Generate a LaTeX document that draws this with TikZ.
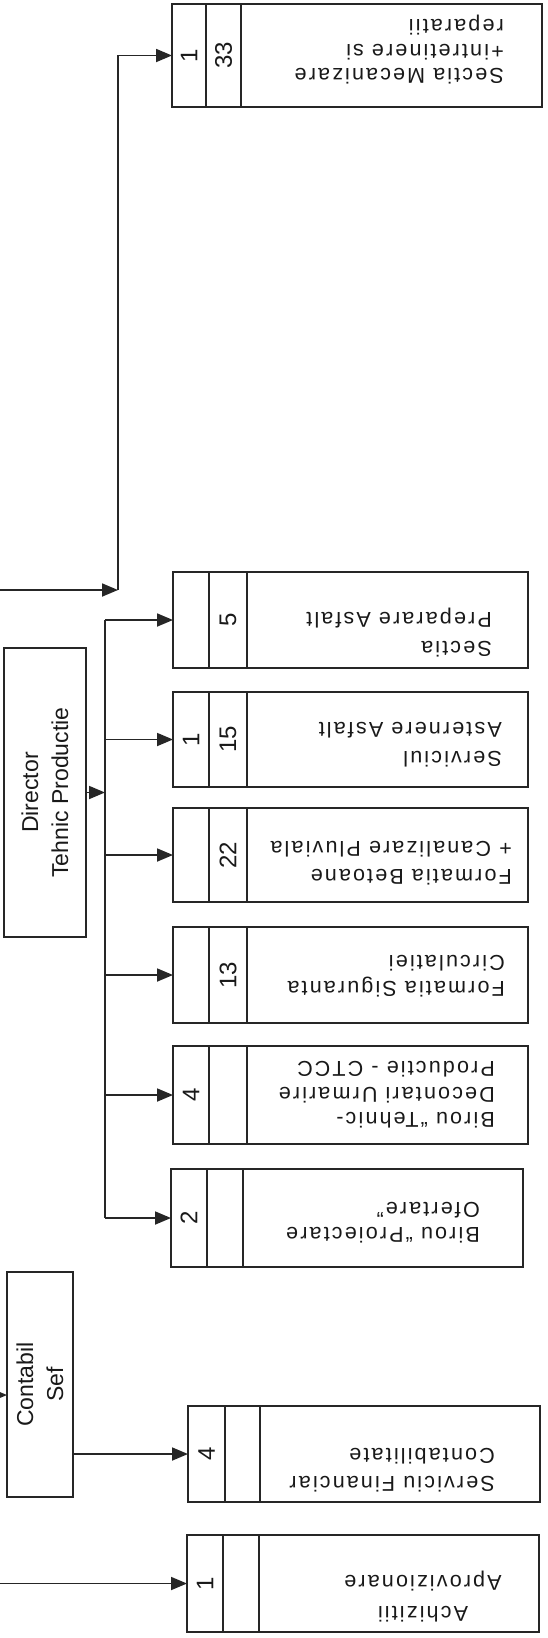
\documentclass[tikz,border=0pt]{standalone}
\usepackage{fontspec}
\setmainfont{Liberation Sans}
\newfontfamily\lblfont[LetterSpace=10]{Liberation Sans}
\usetikzlibrary{arrows.meta}
\newcommand\orgbox[9]{%
  \node[cellbox, minimum width={#4-#2}, minimum height={#5-#3}] (#1) at ({(#2+#4)/2},{(#3+#5)/2}) {};
  \draw[ln] (#6,#3) -- (#6,#5) (#7,#3) -- (#7,#5);
  \node[num] (#1-a) at ({(#2+#6)/2},{(#3+#5)/2}) {#8};
  \node[num] (#1-b) at ({(#6+#7)/2},{(#3+#5)/2}) {#9};
}
\newcommand\lblsize[1]{\lblfont\fontsize{21.5}{#1}\selectfont}
\begin{document}
\begin{tikzpicture}[x=1pt,y=-1pt,
  ln/.style={line width=1.8pt, draw=black!85},
  cellbox/.style={ln, rectangle, inner sep=0pt, outer sep=0pt},
  arr/.style={ln, -{Triangle[length=16pt,width=13pt]}},
  num/.style={font=\fontsize{24}{28}\selectfont, rotate=90, inner sep=0pt, text=black!90},
  lbl/.style={rotate=180, align=left, inner sep=0pt, text=black!90},
  head/.style={font=\fontsize{23}{30}\selectfont, rotate=90, align=center, inner sep=0pt, text=black!90}
]
\fill[white] (0,0) rectangle (547,1638);
\useasboundingbox (0,0) rectangle (547,1638);

% sub-boxes
\orgbox{mec}{172}{4}{542}{107}{206}{241}{1}{33}
\orgbox{prep}{173}{572}{528}{668}{209}{247}{}{5}
\orgbox{serv}{173}{692}{528}{787}{209}{247}{1}{15}
\orgbox{beton}{173}{808}{528}{902}{209}{247}{}{22}
\orgbox{sigur}{173}{927}{528}{1023}{209}{247}{}{13}
\orgbox{tehn}{173}{1046}{528}{1144}{209}{247}{4}{}
\orgbox{proi}{171}{1169}{523}{1267}{207}{243}{2}{}
\orgbox{fin}{188}{1406}{540}{1502}{225}{260}{4}{}
\orgbox{achiz}{187}{1535}{539}{1632}{223}{259}{1}{}

% labels (upside down)
\node[lbl, anchor=west, font=\lblsize{24.5}] (mec-t) at (504,50) {Sectia Mecanizare\\+intretinere si\\reparatii};
\node[lbl, anchor=west, font=\lblsize{29}] (prep-t) at (492,633) {Sectia\\Preparare Asfalt};
\node[lbl, anchor=west, font=\lblsize{29}] (serv-t) at (502,745) {Serviciul\\Asternere Asfalt};
\node[lbl, anchor=west, font=\lblsize{28}] (beton-t) at (512,863) {Formatia Betoane\\+ Canalizare Pluviala};
\node[lbl, anchor=west, font=\lblsize{26}] (sigur-t) at (505,976) {Formatia Siguranta\\Circulatiei};
\node[lbl, anchor=west, font=\lblsize{25.5}] (tehn-t) at (495,1095) {Birou “Tehnic-\\Decontari Urmarire\\Productie - CTCC};
\node[lbl, anchor=west, font=\lblsize{25}] (proi-t) at (480,1223) {Birou “Proiectare\\Ofertare”};
\node[lbl, anchor=west, font=\lblsize{28}] (fin-t) at (495,1470) {Serviciu Financiar\\Contabilitate};
\node[lbl, align=center, font=\lblsize{31}] (achiz-t) at (423,1597) {Achizitii\\Aprovizionare};

% heads
\node[cellbox, minimum width=82, minimum height=289] (dir) at (45,792.5) {};
\node[head] (dir-t) at (dir.center) {Director\\Tehnic Productie};
\node[cellbox, minimum width=66, minimum height=225] (cont) at (40,1384.5) {};
\node[head] (cont-t) at (cont.center) {Contabil\\Sef};

% connectors
\coordinate (bus) at (105,0);
\draw[ln] (bus |- prep.west) -- (bus |- proi.west);
\foreach \n in {prep,serv,beton,sigur,tehn,proi}
  \draw[arr] (bus |- \n.west) -- (\n.west);
\draw[arr] (dir.east) -- (bus |- dir.east);

\coordinate (tcorner) at (118,590);
\coordinate (tin) at (-5,590);
\draw[arr] (tin) -- (tcorner);
\draw[arr] (tcorner) |- (mec.west);

\coordinate (cin) at (-30,1395);
\draw[arr] (cin) -- (cin -| cont.west);
\draw[arr] (fin.west -| cont.east) -- (fin.west);

\coordinate (ain) at (-5,1583.5);
\draw[arr] (ain) -- (achiz.west);
\end{tikzpicture}
\end{document}
